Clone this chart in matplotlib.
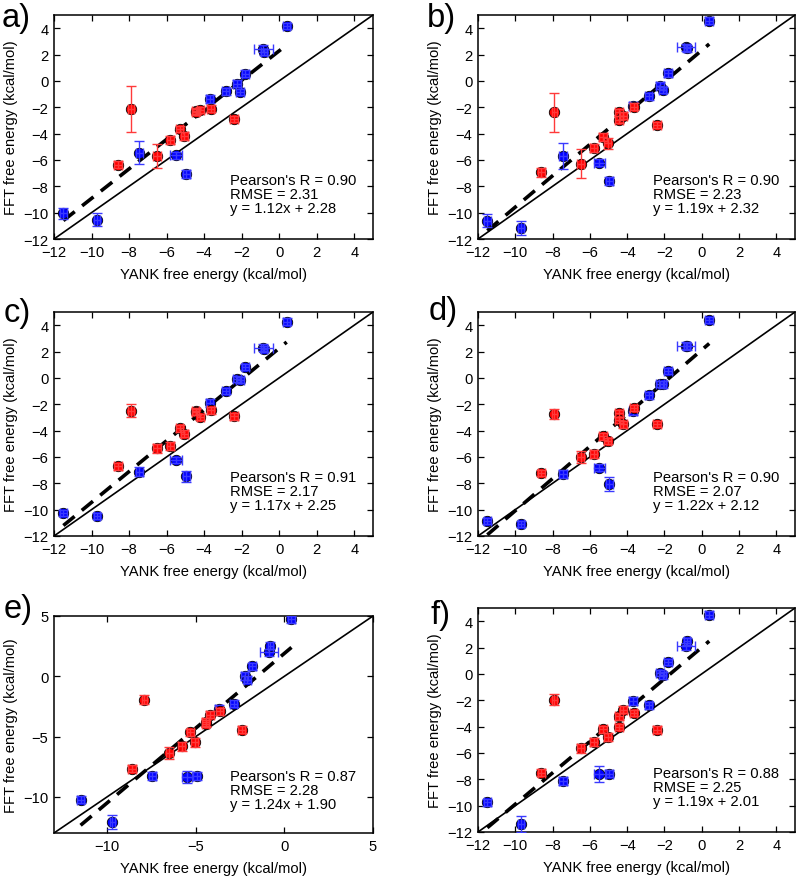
import matplotlib
matplotlib.use("Agg")
import matplotlib.pyplot as plt

plt.rcParams['font.family'] = ['Liberation Sans', 'DejaVu Sans']

# YANK free energies (shared by all panels)
blue_x = [-11.5, -9.7, -7.45, -5.5, -4.95, -3.7, -2.85, -2.25, -2.1, -1.8, -0.85, -0.8, 0.4]
blue_xerr = [0.2, 0.15, 0.2, 0.3, 0.2, 0.2, 0.2, 0.2, 0.2, 0.2, 0.5, 0.15, 0.2]
red_x = [-8.6, -7.9, -6.5, -5.8, -5.3, -5.05, -4.45, -4.45, -4.2, -3.65, -2.4]
red_xerr = [0.2, 0.15, 0.2, 0.2, 0.2, 0.2, 0.2, 0.2, 0.2, 0.2, 0.2]

# Panel a
a_blue_y = [-10.05, -10.55, -5.45, -5.65, -7.05, -1.35, -0.8, -0.2, -0.85, 0.55, 2.45, 2.2, 4.15]
a_blue_yerr = [0.4, 0.5, 0.85, 0.25, 0.3, 0.3, 0.25, 0.25, 0.25, 0.25, 0.25, 0.25, 0.25]
a_red_y = [-6.35, -2.15, -5.7, -4.5, -3.65, -4.15, -2.3, -2.35, -2.2, -2.1, -2.9]
a_red_yerr = [0.25, 1.75, 0.9, 0.3, 0.25, 0.3, 0.25, 0.25, 0.25, 0.25, 0.25]
# Panel b
b_blue_y = [-10.6, -11.15, -5.7, -6.2, -7.6, -1.9, -1.17, -0.36, -0.69, 0.57, 2.55, 2.47, 4.57]
b_blue_yerr = [0.5, 0.55, 1.0, 0.25, 0.3, 0.3, 0.25, 0.25, 0.25, 0.25, 0.25, 0.25, 0.25]
b_red_y = [-6.94, -2.39, -6.28, -5.12, -4.28, -4.74, -2.39, -2.94, -2.64, -1.96, -3.35]
b_red_yerr = [0.35, 1.5, 1.1, 0.3, 0.3, 0.4, 0.25, 0.25, 0.25, 0.25, 0.25]
# Panel c
c_blue_y = [-10.25, -10.47, -7.12, -6.23, -7.48, -1.93, -0.99, -0.07, -0.15, 0.82, 2.3, 2.2, 4.26]
c_blue_yerr = [0.25, 0.25, 0.35, 0.25, 0.45, 0.3, 0.25, 0.25, 0.25, 0.25, 0.25, 0.25, 0.25]
c_red_y = [-6.72, -2.48, -5.33, -5.18, -3.83, -4.23, -2.55, -2.6, -2.98, -2.47, -2.93]
c_red_yerr = [0.25, 0.5, 0.35, 0.3, 0.25, 0.25, 0.25, 0.25, 0.25, 0.25, 0.25]
# Panel d
d_blue_y = [-10.86, -11.1, -7.27, -6.81, -8.05, -2.54, -1.33, -0.46, -0.5, 0.52, 2.45, 2.4, 4.4]
d_blue_yerr = [0.25, 0.25, 0.3, 0.25, 0.5, 0.25, 0.25, 0.25, 0.25, 0.25, 0.25, 0.25, 0.25]
d_red_y = [-7.23, -2.74, -5.99, -5.81, -4.44, -4.8, -2.69, -3.2, -3.53, -2.29, -3.5]
d_red_yerr = [0.25, 0.4, 0.45, 0.3, 0.25, 0.25, 0.25, 0.25, 0.25, 0.25, 0.25]
# Panel e
e_blue_y = [-10.23, -12.09, -8.27, -8.35, -8.27, -2.69, -2.27, 0.03, -0.28, 0.83, 2.0, 2.54, 4.72]
e_blue_yerr = [0.3, 0.6, 0.3, 0.5, 0.3, 0.3, 0.3, 0.3, 0.3, 0.3, 0.3, 0.3, 0.3]
e_red_y = [-7.66, -1.94, -6.36, -5.81, -4.65, -5.48, -3.93, -3.8, -3.18, -2.91, -4.43]
e_red_yerr = [0.3, 0.4, 0.5, 0.35, 0.3, 0.4, 0.3, 0.3, 0.3, 0.3, 0.3]
# Panel f
f_blue_y = [-9.75, -11.37, -8.15, -7.57, -7.57, -2.08, -2.39, 0.07, -0.11, 0.9, 2.1, 2.47, 4.49]
f_blue_yerr = [0.25, 0.6, 0.3, 0.6, 0.25, 0.3, 0.25, 0.25, 0.25, 0.25, 0.25, 0.25, 0.25]
f_red_y = [-7.5, -1.96, -5.65, -5.17, -4.21, -4.79, -3.22, -4.03, -2.72, -2.97, -4.23]
f_red_yerr = [0.25, 0.4, 0.35, 0.3, 0.25, 0.3, 0.25, 0.25, 0.25, 0.25, 0.25]

panel_letters = ['a)', 'b)', 'c)', 'd)', 'e)', 'f)']
pearson_r = [0.90, 0.90, 0.91, 0.90, 0.87, 0.88]
rmse = [2.31, 2.23, 2.17, 2.07, 2.28, 2.25]
slopes = [1.12, 1.19, 1.17, 1.22, 1.24, 1.19]
intercepts = [2.28, 2.32, 2.25, 2.12, 1.90, 2.01]

panels = [
    (a_blue_y, a_blue_yerr, a_red_y, a_red_yerr),
    (b_blue_y, b_blue_yerr, b_red_y, b_red_yerr),
    (c_blue_y, c_blue_yerr, c_red_y, c_red_yerr),
    (d_blue_y, d_blue_yerr, d_red_y, d_red_yerr),
    (e_blue_y, e_blue_yerr, e_red_y, e_red_yerr),
    (f_blue_y, f_blue_yerr, f_red_y, f_red_yerr),
]

W, H = 800, 879
fig = plt.figure(figsize=(W / 100, H / 100), dpi=100)

# axes boxes in pixels: left, right, top, bottom
boxes = [
    (54, 373, 16, 240),
    (478, 795, 16, 240),
    (54, 373, 313, 537),
    (478, 795, 313, 537),
    (54, 373, 617, 834),
    (478, 795, 609, 833),
]
letter_pos = [(2, 27), (427, 27), (4, 322), (429, 320), (4, 618), (431, 624)]
FS = 10.6

for i, (bl_y, bl_ye, rd_y, rd_ye) in enumerate(panels):
    l, r, t, b = boxes[i]
    ax = fig.add_axes([l / W, 1 - b / H, (r - l) / W, (b - t) / H])
    if i == 4:
        lo, hi = -13, 5
        ticks = [-10, -5, 0, 5]
    else:
        lo, hi = -12, 5
        ticks = [-12, -10, -8, -6, -4, -2, 0, 2, 4]
    ax.plot([lo, hi], [lo, hi], color='black', lw=1.2, zorder=1)
    xs = blue_x + red_x
    xmin, xmax = min(xs), max(xs)
    ax.plot([xmin, xmax], [slopes[i] * xmin + intercepts[i], slopes[i] * xmax + intercepts[i]],
            color='black', lw=2.6, dashes=(4, 2.6), zorder=2)
    # blue: markers, then error bars on top
    ax.plot(blue_x, bl_y, 'o', mfc='#0000ff', mec='black', mew=0.6, ms=7.5, zorder=3)
    ax.errorbar(blue_x, bl_y, xerr=blue_xerr, yerr=bl_ye, fmt='none', ecolor='#3a3aff',
                elinewidth=1.0, capsize=3.4, capthick=1.0, zorder=4)
    # red: markers, then error bars on top
    ax.plot(red_x, rd_y, 'o', mfc='#ff0000', mec='black', mew=0.6, ms=7.5, zorder=5)
    ax.errorbar(red_x, rd_y, xerr=red_xerr, yerr=rd_ye, fmt='none', ecolor='#ff3a3a',
                elinewidth=1.0, capsize=3.4, capthick=1.0, zorder=6)
    ax.set_xlim(lo, hi)
    ax.set_ylim(lo, hi)
    ax.set_xticks(ticks)
    ax.set_yticks(ticks)
    ax.tick_params(direction='in', top=True, right=True, length=4, width=0.9,
                   labelsize=FS, pad=4)
    for s in ax.spines.values():
        s.set_linewidth(1.1)
    ax.set_xlabel('YANK free energy (kcal/mol)', fontsize=FS, labelpad=6)
    ax.set_ylabel('FFT free energy (kcal/mol)', fontsize=FS, labelpad=4)
    ax.text(0.553, 0.295,
            "Pearson's R = %.2f\nRMSE = %.2f\ny = %.2fx + %.2f" % (pearson_r[i], rmse[i], slopes[i], intercepts[i]),
            transform=ax.transAxes, fontsize=FS, va='top', ha='left', linespacing=1.02)
    lx, ly = letter_pos[i]
    fig.text(lx / W, 1 - ly / H, panel_letters[i], fontsize=23.5, ha='left', va='baseline')

fig.savefig('out.png', dpi=100)
